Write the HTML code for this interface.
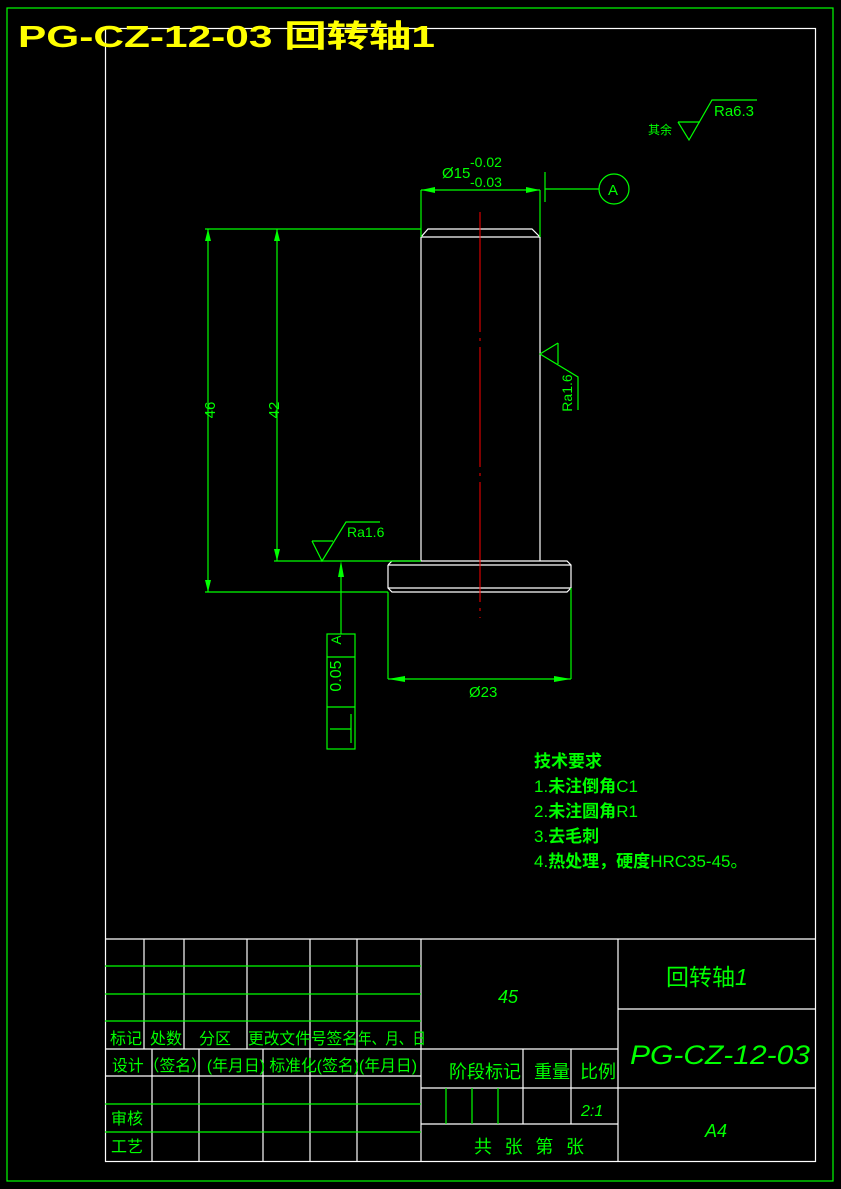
<!DOCTYPE html>
<html><head><meta charset="utf-8"><style>
html,body{margin:0;padding:0;background:#000;}
svg{display:block;}
text{font-family:"Liberation Sans","Noto Sans CJK SC",sans-serif;}
</style></head><body>
<svg width="841" height="1189" viewBox="0 0 841 1189" xmlns="http://www.w3.org/2000/svg">
<rect width="841" height="1189" fill="#000"/>
<rect x="7" y="8" width="826" height="1173" fill="none" stroke="#00ff00" stroke-width="1.2"/>
<rect x="105.5" y="28.5" width="710" height="1133" fill="none" stroke="#fff" stroke-width="1.2"/>
<text x="18" y="47" fill="#ffff00" font-size="31" font-weight="bold" textLength="417" lengthAdjust="spacingAndGlyphs">PG-CZ-12-03 回转轴1</text>

<!-- title block -->
<g stroke="#fff" stroke-width="1.2" fill="none">
<line x1="105" y1="939" x2="815" y2="939"/>
<line x1="105" y1="1049" x2="618" y2="1049"/>
<line x1="105" y1="1076" x2="421" y2="1076"/>
<line x1="421" y1="1088" x2="815" y2="1088"/>
<line x1="421" y1="1124" x2="618" y2="1124"/>
<line x1="618" y1="1009" x2="815" y2="1009"/>
<line x1="421" y1="939" x2="421" y2="1161"/>
<line x1="618" y1="939" x2="618" y2="1161"/>
<line x1="144" y1="939" x2="144" y2="1049"/>
<line x1="184" y1="939" x2="184" y2="1049"/>
<line x1="247" y1="939" x2="247" y2="1049"/>
<line x1="310" y1="939" x2="310" y2="1161"/>
<line x1="357" y1="939" x2="357" y2="1161"/>
<line x1="152" y1="1049" x2="152" y2="1161"/>
<line x1="199" y1="1049" x2="199" y2="1161"/>
<line x1="263" y1="1049" x2="263" y2="1161"/>
<line x1="523" y1="1049" x2="523" y2="1124"/>
<line x1="571" y1="1049" x2="571" y2="1124"/>
</g>
<g stroke="#00ff00" stroke-width="1.2">
<line x1="105" y1="966" x2="421" y2="966"/>
<line x1="105" y1="994" x2="421" y2="994"/>
<line x1="105" y1="1021" x2="421" y2="1021"/>
<line x1="105" y1="1104" x2="421" y2="1104"/>
<line x1="105" y1="1132" x2="421" y2="1132"/>
<line x1="446" y1="1088" x2="446" y2="1124"/>
<line x1="472" y1="1088" x2="472" y2="1124"/>
<line x1="498" y1="1088" x2="498" y2="1124"/>
</g>
<g fill="#00ff00" font-size="16">
<text x="110" y="1044">标记</text><text x="150" y="1044">处数</text><text x="199" y="1044">分区</text>
<text x="248" y="1044" textLength="110" lengthAdjust="spacingAndGlyphs">更改文件号签名</text>
<text x="358" y="1044" textLength="68" lengthAdjust="spacingAndGlyphs">年、月、日</text>
<text x="112" y="1071" textLength="305" lengthAdjust="spacingAndGlyphs">设计（签名）(年月日) 标准化(签名)(年月日)</text>
<text x="111" y="1124">审核</text><text x="111" y="1152">工艺</text>
<text x="449" y="1078" font-size="18">阶段标记</text>
<text x="534" y="1078" font-size="18">重量</text>
<text x="580" y="1078" font-size="18">比例</text>
<text x="581" y="1116" font-style="italic">2:1</text>
<text x="474" y="1153" font-size="18" textLength="110" lengthAdjust="spacing">共 张 第 张</text>
<text x="498" y="1003" font-size="18" font-style="italic" font-family="Liberation Sans">45</text>
<text x="666" y="985" font-size="23">回转轴<tspan font-style="italic">1</tspan></text>
<text x="630" y="1064" font-size="27" font-style="italic" textLength="180" lengthAdjust="spacingAndGlyphs" font-weight="lighter">PG-CZ-12-03</text>
<text x="705" y="1137" font-size="18" font-style="italic">A4</text>
</g>

<!-- part -->
<g stroke="#fff" stroke-width="1.2" fill="none">
<polyline points="421,237 428,229 532,229 540,237"/>
<line x1="421" y1="237" x2="540" y2="237"/>
<line x1="421" y1="237" x2="421" y2="561"/>
<line x1="540" y1="237" x2="540" y2="561"/>
<polyline points="388,565 392,561 567,561 571,565 571,588 567,592 392,592 388,588 388,565"/>
<line x1="388" y1="565" x2="571" y2="565"/>
<line x1="388" y1="588" x2="571" y2="588"/>
</g>
<line x1="480" y1="212" x2="480" y2="618" stroke="#ff0000" stroke-width="1" stroke-dasharray="120,6,3,6"/>

<g stroke="#00ff00" stroke-width="1.2" fill="none">
<line x1="205" y1="229" x2="421" y2="229"/>
<line x1="205" y1="592" x2="388" y2="592"/>
<line x1="274" y1="561" x2="421" y2="561"/>
<line x1="208" y1="229" x2="208" y2="592"/>
<line x1="277" y1="229" x2="277" y2="561"/>
<line x1="421" y1="190" x2="421" y2="237"/>
<line x1="540" y1="190" x2="540" y2="237"/>
<line x1="421" y1="190" x2="540" y2="190"/>
<line x1="545" y1="172" x2="545" y2="202"/>
<line x1="545" y1="189" x2="599" y2="189"/>
<circle cx="614" cy="189" r="15"/>
<line x1="388" y1="592" x2="388" y2="679"/>
<line x1="571" y1="588" x2="571" y2="679"/>
<line x1="388" y1="679" x2="571" y2="679"/>
<line x1="341" y1="565" x2="341" y2="634"/>
<rect x="327" y="634" width="28" height="115"/>
<line x1="327" y1="657" x2="355" y2="657"/>
<line x1="327" y1="707" x2="355" y2="707"/>
<line x1="330" y1="729" x2="351" y2="729"/>
<line x1="351" y1="714" x2="351" y2="743"/>
<!-- Ra1.6 bottom -->
<polyline points="312,541 322,561 346,522 380,522"/>
<line x1="312" y1="541" x2="333" y2="541"/>
<!-- Ra1.6 right -->
<polyline points="558,343 540,354 578,377 578,410"/>
<line x1="558" y1="343" x2="558" y2="364"/>
<!-- Ra6.3 -->
<polyline points="678,122 689,140 712,100 757,100"/>
<line x1="678" y1="122" x2="700" y2="122"/>
</g>
<g fill="#00ff00">
<polygon points="208,229 205,241 211,241"/><polygon points="208,592 205,580 211,580"/>
<polygon points="277,229 274,241 280,241"/><polygon points="277,561 274,549 280,549"/>
<polygon points="421,190 435,187 435,193"/><polygon points="540,190 526,187 526,193"/>
<polygon points="388,679 405,676 405,682"/><polygon points="571,679 554,676 554,682"/>
<polygon points="341,561 338,577 344,577"/>
</g>
<g fill="#00ff00" font-size="15">
<text x="442" y="178">Ø15</text>
<text x="470" y="167" font-size="14">-0.02</text>
<text x="470" y="187" font-size="14">-0.03</text>
<text x="608" y="195" font-size="15">A</text>
<text x="205" y="420" transform="rotate(-90 205 410)" font-size="15" text-anchor="middle">46</text>
<text x="274" y="415" transform="rotate(-90 274 410)" font-size="15" text-anchor="middle">42</text>
<text x="469" y="697">Ø23</text>
<text x="347" y="537" font-size="14">Ra1.6</text>
<text x="572" y="393" transform="rotate(-90 572 393)" font-size="14" text-anchor="middle">Ra1.6</text>
<text x="714" y="116" font-size="15">Ra6.3</text>
<text x="648" y="134" font-size="12">其余</text>
<text x="347" y="682" transform="rotate(-90 341 682)" font-size="16" text-anchor="middle">0.05</text>
<text x="347" y="646" transform="rotate(-90 341 646)" font-size="14" text-anchor="middle">A</text>
</g>
<g fill="#00ff00" font-size="17">
<text x="534" y="767" font-weight="bold">技术要求</text>
<text x="534" y="792">1.<tspan font-weight="bold">未注倒角</tspan>C1</text>
<text x="534" y="817">2.<tspan font-weight="bold">未注圆角</tspan>R1</text>
<text x="534" y="842">3.<tspan font-weight="bold">去毛刺</tspan></text>
<text x="534" y="867">4.<tspan font-weight="bold">热处理，硬度</tspan>HRC35-45。</text>
</g>
</svg>
</body></html>
